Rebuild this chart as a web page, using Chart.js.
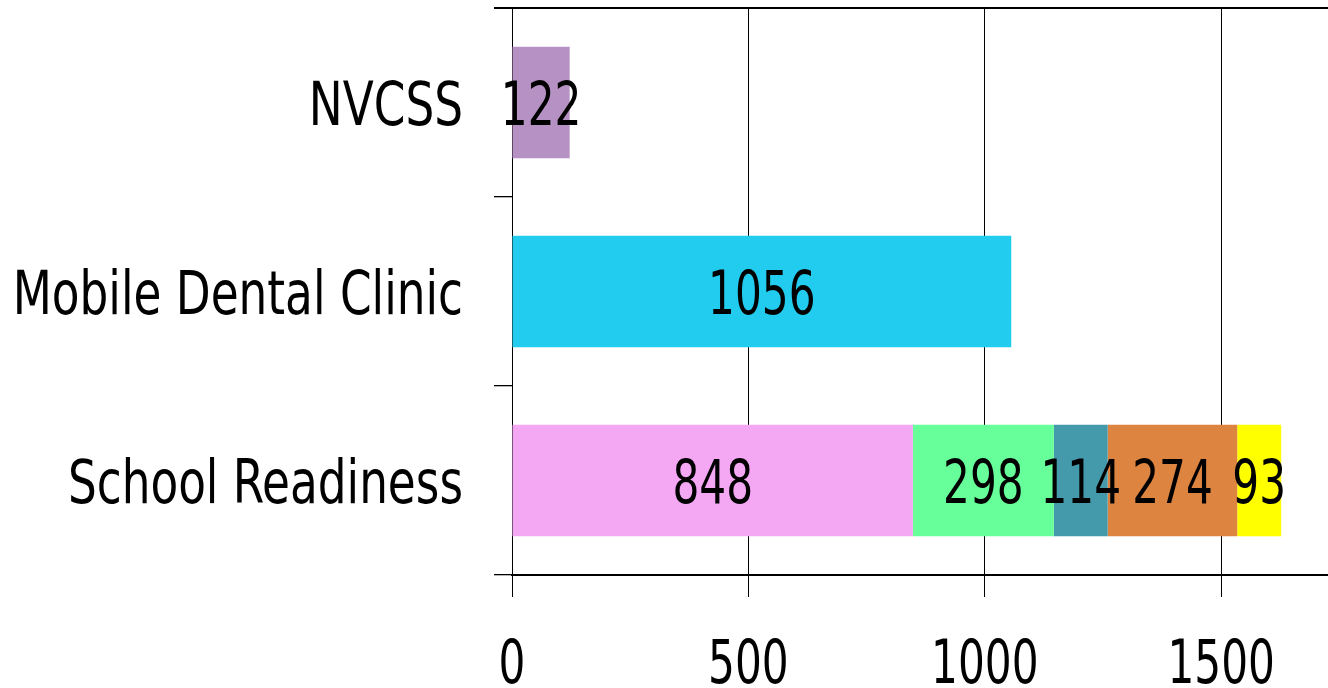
<!DOCTYPE html>
<html>
<head>
<meta charset="utf-8">
<script src="https://cdn.jsdelivr.net/npm/chart.js@4/dist/chart.umd.min.js"></script>
<style>
  html, body { margin: 0; padding: 0; background: #fff; }
  #wrap { width: 1328px; height: 688px; position: relative; }
</style>
</head>
<body>
<div id="wrap"><canvas id="chart"></canvas></div>
<script>
const categories = ['NVCSS', 'Mobile Dental Clinic', 'School Readiness']

// one stacked segment per series, read left to right
const seg1 = [122, 1056, 848]
const seg2 = [null, null, 298]
const seg3 = [null, null, 114]
const seg4 = [null, null, 274]
const seg5 = [null, null, 93]

const seg1Colors = ['#B592C3', '#22CCEE', '#F4A8F4']
const seg2Color = '#66FF99'
const seg3Color = '#4499AA'
const seg4Color = '#DD8440'
const seg5Color = '#FFFF00'

const xTicks = [0, 500, 1000, 1500]
const xMax = 1726

const FONT = '61px "DejaVu Sans Condensed", "DejaVu Sans", sans-serif'

function squeezed (ctx, text, x, y, sx, align) {
  ctx.save()
  ctx.translate(x, y)
  ctx.scale(sx, 1)
  ctx.textAlign = align
  ctx.textBaseline = 'alphabetic'
  ctx.fillText(text, 0, 0)
  ctx.restore()
}

const textPlugin = {
  id: 'textPlugin',
  afterDraw (chart) {
    const ctx = chart.ctx
    const xs = chart.scales.x
    const ys = chart.scales.y
    ctx.save()
    ctx.font = FONT
    ctx.fillStyle = '#000'

    // category labels
    categories.forEach((c, i) => {
      squeezed(ctx, c, ys.right - 49, ys.getPixelForValue(i) + 22, 0.826, 'right')
    })

    // value axis labels
    xs.ticks.forEach(t => {
      squeezed(ctx, String(t.value), xs.getPixelForValue(t.value), 683, 0.77, 'center')
    })

    // segment values
    chart.data.datasets.forEach((ds, di) => {
      const meta = chart.getDatasetMeta(di)
      meta.data.forEach((el, i) => {
        const v = ds.data[i]
        if (v == null) return
        squeezed(ctx, String(v), (el.x + el.base) / 2, el.y + 22, 0.77, 'center')
      })
    })
    ctx.restore()
  }
}

const makeSet = (data, color) => ({
  data: data,
  backgroundColor: color,
  borderWidth: 0,
  barPercentage: 0.59,
  categoryPercentage: 1
})

new Chart(document.getElementById('chart'), {
  type: 'bar',
  data: {
    labels: categories,
    datasets: [
      makeSet(seg1, seg1Colors),
      makeSet(seg2, seg2Color),
      makeSet(seg3, seg3Color),
      makeSet(seg4, seg4Color),
      makeSet(seg5, seg5Color)
    ]
  },
  options: {
    indexAxis: 'y',
    responsive: true,
    maintainAspectRatio: false,
    animation: false,
    layout: { padding: { top: 8, right: 0, left: 0, bottom: 0 } },
    plugins: {
      legend: { display: false },
      tooltip: { enabled: false }
    },
    scales: {
      x: {
        stacked: true,
        min: 0,
        max: xMax,
        ticks: { display: false },
        afterBuildTicks (scale) { scale.ticks = xTicks.map(v => ({ value: v })) },
        grid: {
          color: '#000',
          lineWidth: 1,
          tickLength: 22,
          drawTicks: true
        },
        border: { display: true, color: '#000', width: 2 },
        afterFit (scale) { scale.height = 113 }
      },
      y: {
        stacked: true,
        ticks: { display: false },
        grid: {
          offset: true,
          color: c => (c.index === 0 || c.index === categories.length) ? '#000' : 'rgba(0,0,0,0)',
          tickColor: '#000',
          lineWidth: c => (c.index === 0 || c.index === categories.length) ? 2 : 1.3,
          tickLength: 18,
          drawTicks: true
        },
        border: { display: false },
        afterFit (scale) { scale.width = 512 }
      }
    }
  },
  plugins: [textPlugin]
})
</script>
</body>
</html>
